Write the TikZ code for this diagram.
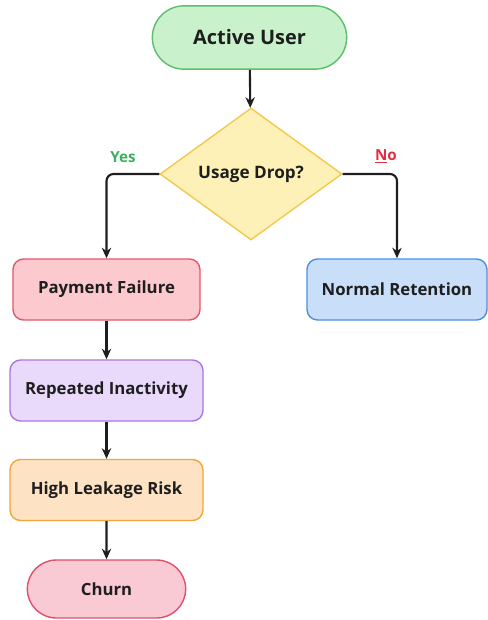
\documentclass[tikz,border=0pt]{standalone}
\usepackage{fontspec}
\setmainfont{Open Sans}
\usepackage{xcolor}
\usetikzlibrary{arrows.meta}
\usetikzlibrary{shapes.geometric}
\usetikzlibrary{shapes.misc}

\definecolor{startfill}{HTML}{C9F2CC}
\definecolor{startline}{HTML}{5DBE6A}
\definecolor{askfill}{HTML}{FDF1B8}
\definecolor{askline}{HTML}{F2C94C}
\definecolor{payfill}{HTML}{FCC9CE}
\definecolor{payline}{HTML}{E5566A}
\definecolor{keepfill}{HTML}{C9DEF8}
\definecolor{keepline}{HTML}{4A8FE0}
\definecolor{idlefill}{HTML}{E9DAFB}
\definecolor{idleline}{HTML}{A878DE}
\definecolor{riskfill}{HTML}{FDE2C4}
\definecolor{riskline}{HTML}{F2A63A}
\definecolor{churnfill}{HTML}{F9C9D4}
\definecolor{churnline}{HTML}{E0506C}
\definecolor{yescol}{HTML}{3BB060}
\definecolor{nocol}{HTML}{E03040}
\definecolor{inkcol}{HTML}{1E1E1E}

\tikzset{
  box/.style={rectangle, rounded corners=9pt, line width=1.2pt, text=inkcol,
    font=\bfseries\fontsize{14.3}{16}\selectfont, minimum height=1.83cm, inner sep=2pt},
  endbox/.style={rounded rectangle, line width=1.2pt, text=inkcol,
    font=\bfseries\fontsize{14.3}{16}\selectfont, minimum height=1.9cm, inner sep=2pt},
  askbox/.style={diamond, aspect=1.38, line width=1.2pt, text=inkcol,
    font=\bfseries\fontsize{14.6}{16}\selectfont, minimum width=5.46cm, minimum height=3.96cm, inner sep=0pt},
  flow/.style={-{Stealth[length=9pt,width=8pt]}, line width=1.8pt, draw=inkcol, rounded corners=6pt},
  tag/.style={font=\bfseries\fontsize{13}{15}\selectfont},
}

\begin{document}
\begin{tikzpicture}[x=0.03cm, y=-0.03cm]
  \useasboundingbox (0,0) rectangle (488,620);

  % start and decision
  \node[endbox, fill=startfill, draw=startline, minimum width=5.97cm,
        font=\bfseries\fontsize{17}{19}\selectfont] (active) at (249.5,37.5) {Active User};
  \node[askbox, fill=askfill, draw=askline] (drop) at (251,174) {Usage Drop?};

  % the two branches
  \node[box, fill=payfill, draw=payline, minimum width=5.61cm] (pay) at (106.5,289.5) {Payment Failure};
  \node[box, fill=keepfill, draw=keepline, minimum width=5.4cm] (keep) at (397,289.5) {Normal Retention};

  % churn path
  \node[box, fill=idlefill, draw=idleline, minimum width=5.79cm] (idle) at (106.5,390.5) {Repeated Inactivity};
  \node[box, fill=riskfill, draw=riskline, minimum width=5.79cm] (risk) at (106.5,490) {High Leakage Risk};
  \node[endbox, fill=churnfill, draw=churnline, minimum width=4.89cm, minimum height=1.74cm] (churn) at (106.5,589) {Churn};

  % labels on the branches
  \node[tag, text=yescol] (yes) at (123,157) {Yes};
  \node[tag, text=nocol] (no) at (386,156) {\underline{N}o};

  % connectors
  \draw[flow] (active) -- (drop);
  \draw[flow] (drop.west) -| (pay.north);
  \draw[flow] (drop.east) -| (keep.north);
  \draw[flow] (pay) -- (idle);
  \draw[flow] (idle) -- (risk);
  \draw[flow] (risk) -- (churn);
\end{tikzpicture}
\end{document}
